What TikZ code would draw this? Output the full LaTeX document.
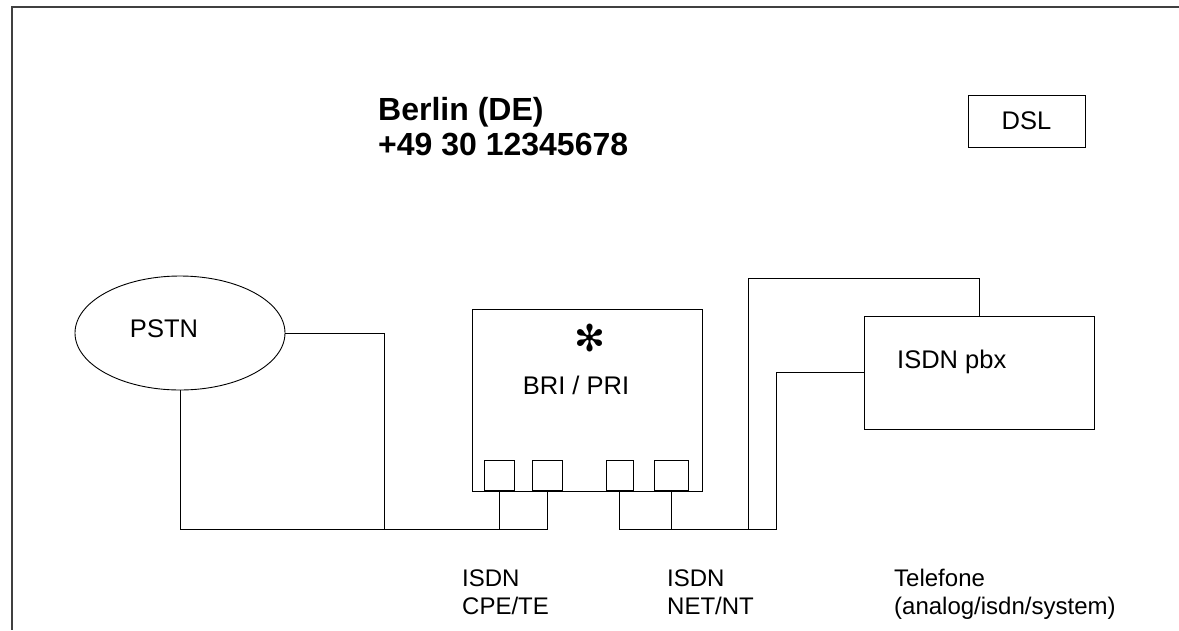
\documentclass[tikz,border=0pt]{standalone}
\usepackage{fontspec}
\setmainfont{Liberation Sans}
\newfontfamily\dingfont{DejaVu Sans}
\usetikzlibrary{shapes.geometric}

\begin{document}
\begin{tikzpicture}[x=1pt,y=-1pt,
    wire/.style={line width=0.9pt},
    box/.style={draw,line width=0.9pt,rectangle,inner sep=0pt},
    port/.style={box,minimum height=30pt,anchor=south},
    txt/.style={font=\fontsize{25.5}{33}\selectfont,inner sep=0pt},
    smalltxt/.style={font=\fontsize{24}{28}\selectfont,inner sep=0pt,align=left,anchor=base west},
    titletxt/.style={font=\fontsize{32}{35}\selectfont\bfseries,inner sep=0pt}]
  \useasboundingbox (0,0) rectangle (1179,630);
  \draw[line width=1.3pt,black!75] (1179,7) -- (12,7) -- (12,630);
  \node[titletxt,align=left,anchor=base west] (title) at (378,155) {Berlin (DE)\\+49 30 12345678};
  \node[box,txt,minimum width=117pt,minimum height=52pt] (dsl) at (1026.5,121) {DSL};
  \node[draw,ellipse,line width=0.9pt,minimum width=210pt,minimum height=114pt,inner sep=0pt] (pstn) at (180,333) {};
  \node[txt] (pstnlabel) at (164,329) {PSTN};
  \node[box,minimum width=230pt,minimum height=182pt] (bri) at (587,400) {};
  \node[font=\dingfont\fontsize{37}{37}\selectfont,inner sep=0pt] (star) at (590,338) {✻};
  \node[txt] (brilabel) at (576,385) {BRI / PRI};
  \node[port,minimum width=30pt] (p1) at (499,491) {};
  \node[port,minimum width=30pt] (p2) at (547,491) {};
  \node[port,minimum width=27pt] (p3) at (619.5,491) {};
  \node[port,minimum width=34pt] (p4) at (671,491) {};
  \node[box,minimum width=230pt,minimum height=113pt] (pbx) at (979,372.5) {};
  \node[txt,anchor=west] (pbxlabel) at (897,362) {ISDN pbx};
  \coordinate (tap) at (384,529);
  \coordinate (nt1) at (748,529);
  \coordinate (nt2) at (776,529);
  \coordinate (loop) at (748,278);
  \draw[wire] (pstn.east) -| (tap);
  \draw[wire] (pstn.south) |- (p2.south |- tap) -- (p2.south);
  \draw[wire] (p1.south) -- (p1.south |- tap);
  \draw[wire] (p3.south) |- (nt2) |- (pbx.west);
  \draw[wire] (p4.south) -- (p4.south |- nt2);
  \draw[wire] (nt1) -- (loop) -| (pbx.north);
  \node[smalltxt] (telabel) at (462,614) {ISDN\\CPE/TE};
  \node[smalltxt] (ntlabel) at (667,614) {ISDN\\NET/NT};
  \node[smalltxt] (phones) at (894,614) {Telefone\\(analog/isdn/system)};
\end{tikzpicture}
\end{document}
